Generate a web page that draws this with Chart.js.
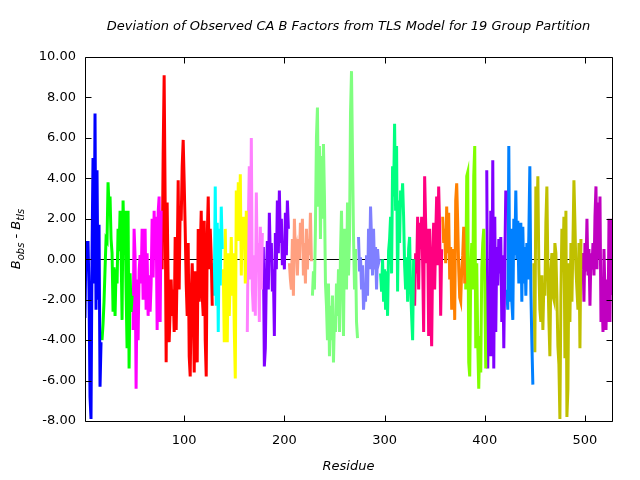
<!DOCTYPE html>
<html><head><meta charset="utf-8">
<script src="https://cdn.jsdelivr.net/npm/chart.js@4.4.1/dist/chart.umd.min.js"></script>
<style>html,body{margin:0;padding:0;background:#fff}canvas{display:block}</style>
</head><body>
<canvas id="c" width="640" height="480"></canvas>
<script>
const titleText = "Deviation of Observed CA B Factors from TLS Model for 19 Group Partition";
const xAxisTitle = "Residue";
const xTickValues = [100, 200, 300, 400, 500];
const yTickValues = [-8, -6, -4, -2, 0, 2, 4, 6, 8, 10];
const groupStarts = [1, 18, 49, 78, 129, 139, 163, 179, 205, 228, 274, 296, 330, 358, 381, 402, 422, 449, 497];
const groupColors = ["#0000ff","#00ff00","#ff00ff","#ff0000","#00ffff","#ffff00","#ff80ff","#8000ff","#ffa080","#80ff80","#8080ff","#00ff80","#ff0080","#ff8000","#80ff00","#8000ff","#0080ff","#c0c000","#c000c0"];

const g01 = [-2.9,0.9,-0.5,0.9,-1.5,-6.8,-7.9,0.2,5.0,-1.2,7.2,-2.5,4.4,-2.0,1.7,-6.3,-4.1];
const g02 = [-4.0,-3.2,-2.1,-0.5,1.0,0.9,3.8,2.6,3.1,1.0,0.3,-2.6,-0.4,-2.8,-0.5,-1.2,1.5,0.4,2.4,0.5,-3.0,2.9,0.6,2.4,-1.5,-4.4,2.4,-5.4,-0.7,-2.6,-1.8];
const g03 = [-3.5,1.5,0.1,-6.4,-1.0,-4.0,-0.6,0.2,-1.2,1.5,-2.0,0.3,1.5,-2.5,0.3,-2.8,-0.8,-2.6,-1.2,2.0,-0.9,2.4,0.0,2.1,-3.5,2.3,3.1,-3.1,2.4];
const g04 = [-0.5,5.2,9.1,2.8,-5.1,2.8,-1.2,-4.1,-2.5,-1.0,-2.8,-1.5,-3.6,1.1,-3.5,-0.3,3.9,-1.5,2.6,1.9,4.6,5.9,3.8,1.5,-1.2,-2.8,0.8,-4.8,-5.8,-1.8,-0.2,-2.1,-5.6,-0.6,-1.8,-5.1,1.5,-2.1,0.3,2.4,-1.8,-2.8,1.9,-4.0,-5.8,1.1,3.1,-0.5,1.5,0.1,-2.3];
const g05 = [-0.2,-1.8,3.6,-2.3,1.8,-3.6,1.5,-1.3,2.6,0.5];
const g06 = [-0.5,-4.1,1.5,-2.0,-4.1,0.3,-2.8,-0.8,1.1,-1.8,0.3,-3.5,-5.9,3.4,0.9,3.8,0.9,4.2,-0.8,2.1,0.5,2.1,-1.2,2.4];
const g07 = [-3.6,1.8,4.6,-1.0,6.0,-1.5,-2.6,0.2,-2.8,3.3,-0.6,0.8,-3.1,1.6,-1.5,1.3];
const g08 = [0.6,-5.3,-4.4,-0.8,0.9,-1.5,2.3,0.0,0.8,-1.6,-0.5,-3.8,1.3,-0.5,2.9,0.3,3.4,0.8,2.0,-0.3,0.8,-0.5,2.3,0.2,2.9,1.5];
const g09 = [-0.2,-1.0,-1.5,1.0,-1.8,2.0,0.2,0.5,-0.8,1.0,0.0,1.8,0.8,2.0,-0.8,0.8,-1.2,1.5,-0.5,1.0,0.2,2.3,-0.1];
const g10 = [-1.8,-0.6,-1.5,1.5,6.0,7.5,2.6,5.6,1.0,5.1,2.0,5.7,3.1,-1.2,-2.3,-4.0,-1.2,-4.8,-2.3,-4.0,-1.8,-5.1,-2.8,-3.6,-1.2,-2.8,-0.5,-3.6,0.3,2.4,-0.8,-3.8,1.5,0.8,-1.5,2.8,-0.8,1.0,7.2,9.3,5.1,1.1,-1.5,0.5,-3.1,-3.9];
const g11 = [1.1,-0.6,0.1,-1.5,-0.3,-2.5,-1.5,-2.1,0.2,-1.8,1.5,-0.5,2.6,1.0,-0.8,1.5,-0.5,0.6,-1.5,0.5,-0.2,0.0];
const g12 = [-0.7,-1.6,0.0,-2.1,-0.5,-2.5,-0.6,-2.8,0.4,1.0,2.1,-0.7,4.6,3.1,6.7,2.4,5.6,-1.6,2.9,0.8,3.4,2.6,3.75,2.1,-0.3,-1.5,0.1,-2.1,0.5,1.1,-1.5,-2.8,-4.0,0.0];
const g13 = [-2.3,0.3,-0.7,2.1,-1.5,1.8,0.5,2.1,-0.2,-3.6,4.1,1.8,-0.2,1.5,-3.8,1.5,-2.5,-4.3,0.2,1.8,-1.5,1.1,3.1,-0.3,3.6,1.5,-2.8,0.5];
const g14 = [2.1,0.8,1.5,-0.2,2.6,0.3,2.3,-1.0,0.6,-2.5,-1.5,0.5,-3.0,2.9,3.75,1.8,-0.5,-1.9,-2.1,-0.5,0.2,1.6,-1.2];
const g15 = [-1.5,4.1,4.3,-5.1,-5.8,-0.7,0.8,-1.5,4.1,5.6,-4.4,-0.2,-4.1,-6.4,-3.8,-5.6,-0.5,0.8,1.5,-1.2,-5.4];
const g16 = [4.4,-5.4,-1.0,-4.8,2.4,-4.8,4.9,-5.4,2.1,-3.6,0.6,-1.3,1.0,-0.7,1.1,-3.1,0.2,-4.4,-0.2,3.4];
const g17 = [-1.5,-2.5,5.6,-2.1,1.5,-2.1,-3.0,2.0,0.2,3.4,0.0,1.9,-1.2,0.5,1.8,-2.1,1.6,-1.2,0.6,-1.8,0.8,-1.0,1.2,4.6,-1.5,-4.1,-6.2];
const g18 = [-0.2,-4.6,3.6,1.5,4.1,-0.5,-2.5,-3.1,-0.8,-3.5,-1.2,-1.8,1.8,3.6,-0.5,-3.0,-4.8,-0.5,0.3,-1.8,-2.0,0.8,0.3,-1.8,-4.3,-5.2,-7.9,-1.8,1.5,-0.6,2.1,-4.9,2.4,-7.8,-6.4,-0.2,-3.1,0.8,-2.1,0.8,3.9,1.8,-0.5,-1.5,-2.5,0.8,-4.4,1.0];
const g19 = [-0.5,0.3,-2.1,0.8,-0.6,2.0,-0.8,0.5,-2.3,0.3,-0.5,0.8,-0.8,2.1,3.6,-0.5,2.8,0.0,3.1,-3.1,-1.5,-3.6,0.5,-1.8,-3.5,-1.0,-3.1,2.0,-3.1,2.0,-1.8,-1.0];

const groupValues = [g01,g02,g03,g04,g05,g06,g07,g08,g09,g10,g11,g12,g13,g14,g15,g16,g17,g18,g19];

const datasets = groupValues.map((vals, i) => ({
  label: "Group " + (i + 1),
  data: vals.map((v, k) => ({ x: groupStarts[i] + k, y: v })),
  borderColor: groupColors[i],
  backgroundColor: groupColors[i],
  borderWidth: 3,
  pointRadius: 0,
  tension: 0,
  fill: false
}));

const FONT = '"DejaVu Sans", sans-serif';

const framePlugin = {
  id: 'frame',
  beforeDatasetsDraw(chart) {
    const { ctx, chartArea: a, scales: { y } } = chart;
    ctx.save();
    ctx.strokeStyle = '#000';
    ctx.lineWidth = 1;
    const y0 = Math.round(y.getPixelForValue(0)) + 0.5;
    ctx.beginPath(); ctx.moveTo(a.left, y0); ctx.lineTo(a.right, y0); ctx.stroke();
    ctx.restore();
  },
  afterDatasetsDraw(chart) {
    const { ctx, chartArea: a, scales: { x, y } } = chart;
    ctx.save();
    ctx.strokeStyle = '#000';
    ctx.lineWidth = 1;
    const L = Math.round(a.left) + 0.5, R = Math.round(a.right) + 0.5;
    const T = Math.round(a.top) + 0.5, B = Math.round(a.bottom) + 0.5;
    ctx.beginPath();
    ctx.rect(L, T, R - L, B - T);
    const tl = 6;
    yTickValues.forEach(v => {
      const p = Math.round(y.getPixelForValue(v)) + 0.5;
      ctx.moveTo(L, p); ctx.lineTo(L + tl, p);
      ctx.moveTo(R, p); ctx.lineTo(R - tl, p);
    });
    xTickValues.forEach(v => {
      const p = Math.round(x.getPixelForValue(v)) + 0.5;
      ctx.moveTo(p, B); ctx.lineTo(p, B - tl);
      ctx.moveTo(p, T); ctx.lineTo(p, T + tl);
    });
    ctx.stroke();

    ctx.fillStyle = '#000';
    ctx.textAlign = 'center';
    ctx.textBaseline = 'middle';
    const cx = (a.left + a.right) / 2;
    ctx.font = 'italic 13px ' + FONT;
    ctx.fillText(titleText, cx, 27);
    ctx.fillText(xAxisTitle, cx, 467);

    const big = 'italic 13px ' + FONT, small = 'italic 10px ' + FONT;
    const parts = [["B", big, 0], ["obs", small, 4], [" - ", big, 0], ["B", big, 0], ["tls", small, 4]];
    let total = 0;
    parts.forEach(p => { ctx.font = p[1]; total += ctx.measureText(p[0]).width; });
    ctx.translate(17, (a.top + a.bottom) / 2);
    ctx.rotate(-Math.PI / 2);
    ctx.textAlign = 'left';
    let px = -total / 2;
    parts.forEach(p => {
      ctx.font = p[1];
      ctx.fillText(p[0], px, p[2]);
      px += ctx.measureText(p[0]).width;
    });
    ctx.restore();
  }
};

new Chart(document.getElementById('c'), {
  type: 'line',
  data: { datasets },
  options: {
    responsive: false,
    animation: false,
    parsing: true,
    layout: { padding: { left: 0, right: 28, top: 57, bottom: 0 } },
    plugins: { legend: { display: false }, title: { display: false }, tooltip: { enabled: false } },
    scales: {
      x: {
        type: 'linear', min: 1, max: 527,
        grid: { display: false, drawTicks: false },
        border: { display: false },
        afterBuildTicks: s => { s.ticks = xTickValues.map(v => ({ value: v })); },
        afterFit: s => { s.height = 59; },
        ticks: { color: '#000', font: { family: FONT, size: 13 }, padding: 12, maxRotation: 0, callback: v => String(v) }
      },
      y: {
        type: 'linear', min: -8, max: 10,
        grid: { display: false, drawTicks: false },
        border: { display: false },
        afterBuildTicks: s => { s.ticks = yTickValues.map(v => ({ value: v })); },
        afterFit: s => { s.width = 85; },
        ticks: { color: '#000', font: { family: FONT, size: 13 }, padding: 9, callback: v => Number(v).toFixed(2) }
      }
    }
  },
  plugins: [framePlugin]
});
</script>
</body></html>
